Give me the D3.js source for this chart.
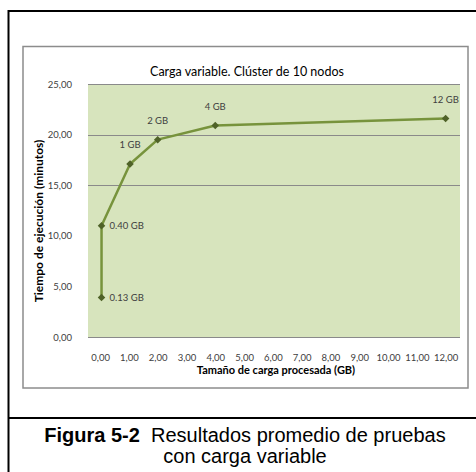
<!DOCTYPE html>
<html>
<head>
<meta charset="utf-8">
<script src="https://cdn.jsdelivr.net/npm/d3@7"></script>
<style>
  html, body { margin: 0; padding: 0; background: #ffffff; }
  svg { display: block; }
</style>
</head>
<body>
<svg id="chart" width="476" height="472"></svg>
<script>
// ---- data ----
const pointLabels = ["0.13 GB", "0.40 GB", "1 GB", "2 GB", "4 GB", "12 GB"];
const xValues = [0.05, 0.05, 1.04, 2.0, 4.0, 12.0];
const yValues = [3.9, 11.0, 17.1, 19.5, 20.9, 21.6];
const labelSide = ["right", "right", "top", "top", "top", "top"];
const yTicks = [0, 5, 10, 15, 20, 25];
const xTicks = [0, 1, 2, 3, 4, 5, 6, 7, 8, 9, 10, 11, 12];
const gridValues = [15, 20, 25];
const chartTitle = "Carga variable. Clúster de 10 nodos";
const yTitle = "Tiempo de ejecución (minutos)";
const xTitle = "Tamaño de carga procesada (GB)";
const captionBold = "Figura 5-2";
const captionLine1 = "Resultados promedio de pruebas";
const captionLine2 = "con carga variable";

const svg = d3.select("#chart");
const font = "Lato, 'Open Sans', sans-serif";
const capFont = "'Liberation Sans', Arial, sans-serif";

// outer document frame
svg.append("line").attr("x1", 8.5).attr("x2", 8.5).attr("y1", 10).attr("y2", 472)
  .attr("stroke", "#000").attr("stroke-width", 2);
svg.append("line").attr("x1", 8).attr("x2", 476).attr("y1", 11).attr("y2", 11)
  .attr("stroke", "#000").attr("stroke-width", 2);
svg.append("line").attr("x1", 8).attr("x2", 476).attr("y1", 418).attr("y2", 418)
  .attr("stroke", "#000").attr("stroke-width", 2);

// chart frame
svg.append("rect").attr("x", 23).attr("y", 46.5).attr("width", 445).attr("height", 341.5)
  .attr("fill", "#fff").attr("stroke", "#8c8c8c").attr("stroke-width", 1.5);

const plot = { left: 88, right: 460, top: 84, bottom: 337 };
const x = d3.scaleLinear().domain([-0.42, 12.5]).range([plot.left, plot.right]);
const y = d3.scaleLinear().domain([0, 25]).range([plot.bottom, plot.top]);

// plot background
svg.append("rect").attr("x", plot.left).attr("y", plot.top)
  .attr("width", plot.right - plot.left).attr("height", plot.bottom - plot.top)
  .attr("fill", "#d7e4bd");

// gridlines
svg.append("g").selectAll("line").data(gridValues).join("line")
  .attr("x1", plot.left).attr("x2", plot.right)
  .attr("y1", d => Math.round(y(d)) + 0.5).attr("y2", d => Math.round(y(d)) + 0.5)
  .attr("stroke", "#8a8a8a").attr("stroke-width", 1.2);
// x axis line
svg.append("line").attr("x1", plot.left).attr("x2", plot.right)
  .attr("y1", plot.bottom + 0.5).attr("y2", plot.bottom + 0.5)
  .attr("stroke", "#8a8a8a").attr("stroke-width", 1.2);

const fmt = v => d3.format(".2f")(v).replace(".", ",");

// y axis
const yAxis = svg.append("g").attr("transform", `translate(${plot.left},0)`)
  .call(d3.axisLeft(y).tickValues(yTicks).tickSize(0).tickPadding(16).tickFormat(fmt));
yAxis.select(".domain").remove();
yAxis.selectAll("text").attr("font-family", font).attr("font-size", 9.5).attr("fill", "#404040");

// x axis
const xAxis = svg.append("g").attr("transform", `translate(0,${plot.bottom})`)
  .call(d3.axisBottom(x).tickValues(xTicks).tickSize(0).tickPadding(17).tickFormat(fmt));
xAxis.select(".domain").remove();
xAxis.selectAll("text").attr("font-family", font).attr("font-size", 9.5).attr("fill", "#404040");

// titles
svg.append("text").attr("x", 247).attr("y", 76).attr("text-anchor", "middle")
  .attr("font-family", font).attr("font-size", 12.5).attr("fill", "#000").text(chartTitle);
svg.append("text").attr("transform", "translate(43,221) rotate(-90)").attr("text-anchor", "middle")
  .attr("font-family", font).attr("font-size", 12).attr("font-weight", "bold").attr("fill", "#000").text(yTitle);
svg.append("text").attr("x", 276).attr("y", 374).attr("text-anchor", "middle")
  .attr("font-family", font).attr("font-size", 11).attr("font-weight", "bold").attr("fill", "#000").text(xTitle);

// series
const data = xValues.map((v, i) => ({ x: v, y: yValues[i], label: pointLabels[i], side: labelSide[i] }));
svg.append("path").datum(data)
  .attr("fill", "none").attr("stroke", "#77933c").attr("stroke-width", 2.5)
  .attr("stroke-linejoin", "round")
  .attr("d", d3.line().x(d => x(d.x)).y(d => y(d.y)));

svg.append("g").selectAll("path").data(data).join("path")
  .attr("transform", d => `translate(${x(d.x)},${y(d.y)})`)
  .attr("d", d3.symbol(d3.symbolDiamond2, 36))
  .attr("fill", "#4f6228");

svg.append("g").selectAll("text").data(data).join("text")
  .attr("x", d => d.side === "right" ? x(d.x) + 8 : x(d.x))
  .attr("y", d => d.side === "right" ? y(d.y) : y(d.y) - 19)
  .attr("dy", "0.35em")
  .attr("text-anchor", d => d.side === "right" ? "start" : "middle")
  .attr("font-family", font).attr("font-size", 9.5).attr("fill", "#404040")
  .text(d => d.label);

// caption
const cap = svg.append("text").attr("x", 245).attr("y", 441.5).attr("text-anchor", "middle")
  .attr("font-family", capFont).attr("font-size", 20).attr("fill", "#000");
cap.append("tspan").attr("font-weight", "bold").text(captionBold);
cap.append("tspan").text("\u00a0\u00a0" + captionLine1);
svg.append("text").attr("x", 245).attr("y", 463).attr("text-anchor", "middle")
  .attr("font-family", capFont).attr("font-size", 20).attr("fill", "#000")
  .text(captionLine2);
</script>
</body>
</html>
